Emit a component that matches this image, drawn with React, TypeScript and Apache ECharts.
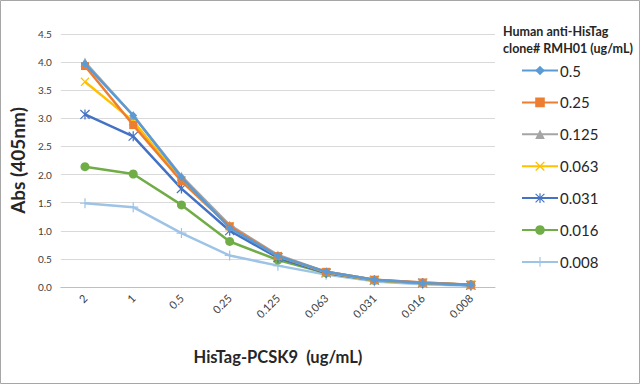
import React, { useEffect, useRef } from "react";
import * as echarts from "echarts";

const categories = ["2", "1", "0.5", "0.25", "0.125", "0.063", "0.031", "0.016", "0.008"];
const seriesNames = ["0.5", "0.25", "0.125", "0.063", "0.031", "0.016", "0.008"];
const s05 = [3.97, 3.05, 1.95, 1.05, 0.55, 0.27, 0.13, 0.07, 0.04];
const s025 = [3.93, 2.88, 1.88, 1.08, 0.55, 0.27, 0.13, 0.08, 0.04];
const s0125 = [4.0, 3.05, 1.97, 1.1, 0.57, 0.27, 0.13, 0.08, 0.04];
const s0063 = [3.65, 2.95, 1.9, 1.08, 0.55, 0.26, 0.12, 0.07, 0.04];
const s0031 = [3.07, 2.68, 1.75, 1.0, 0.52, 0.25, 0.12, 0.07, 0.03];
const s0016 = [2.14, 2.01, 1.46, 0.81, 0.48, 0.25, 0.12, 0.07, 0.04];
const s0008 = [1.49, 1.42, 0.96, 0.56, 0.38, 0.22, 0.1, 0.05, 0.02];
const seriesData = [s05, s025, s0125, s0063, s0031, s0016, s0008];
const colors = ["#5B9BD5", "#ED7D31", "#A5A5A5", "#FFC000", "#4472C4", "#70AD47", "#9DC3E6"];

const X_PATH = "path://M1,0L5,4L9,0L10,1L6,5L10,9L9,10L5,6L1,10L0,9L4,5L0,1Z";
const STAR_PATH =
  "path://M4.4,0H5.6V10H4.4Z M1,0.2L5,4.2L9,0.2L9.8,1L5.8,5L9.8,9L9,9.8L5,5.8L1,9.8L0.2,9L4.2,5L0.2,1Z";
const PLUS_PATH = "path://M0,4.4H10V5.6H0Z M4.4,0H5.6V10H4.4Z";
const symbols = ["diamond", "rect", "triangle", X_PATH, STAR_PATH, "circle", PLUS_PATH];
const symbolSizes = [8, 8, 9, 9, 10, 9, 10];

const FONT = "Lato, 'Open Sans', sans-serif";

export default function App() {
  const ref = useRef<HTMLDivElement>(null);
  useEffect(() => {
    if (!ref.current) return;
    const chart = echarts.init(ref.current, null, { renderer: "svg" });
    chart.setOption({
      animation: false,
      backgroundColor: "#ffffff",
      textStyle: { fontFamily: FONT },
      title: {
        text: "Human anti-HisTag\nclone# RMH01 (ug/mL)",
        left: 498,
        top: 18,
        textStyle: { fontSize: 12.5, fontWeight: "bold", color: "#262626", lineHeight: 17, fontFamily: FONT },
      },
      legend: {
        orient: "vertical",
        left: 516,
        top: 58,
        itemWidth: 36,
        itemHeight: 12,
        itemGap: 16.9,
        textStyle: { fontSize: 15, color: "#262626", fontFamily: FONT, padding: [0, 0, 0, -3] },
        data: seriesNames,
      },
      grid: { left: 59, top: 34, right: 145, bottom: 97, containLabel: false },
      xAxis: {
        type: "category",
        data: categories,
        boundaryGap: true,
        name: "HisTag-PCSK9  (ug/mL)",
        nameLocation: "middle",
        nameGap: 61,
        nameTextStyle: { fontSize: 16.5, fontWeight: "bold", color: "#262626", fontFamily: FONT },
        axisLine: { lineStyle: { color: "#BFBFBF", width: 1 } },
        axisTick: { show: false },
        axisLabel: { rotate: 45, fontSize: 11, color: "#404040", margin: 9, fontFamily: FONT },
      },
      yAxis: {
        type: "value",
        min: 0,
        max: 4.5,
        interval: 0.5,
        name: "Abs (405nm)",
        nameLocation: "middle",
        nameGap: 19,
        nameTextStyle: { fontSize: 19, fontWeight: "bold", color: "#262626", fontFamily: FONT },
        axisLine: { show: false },
        axisTick: { show: false },
        splitLine: { lineStyle: { color: "#D9D9D9", width: 1 } },
        axisLabel: {
          fontSize: 10,
          color: "#404040",
          margin: 9,
          fontFamily: FONT,
          formatter: (v: number) => v.toFixed(1),
        },
      },
      series: seriesNames.map((name, i) => ({
        name,
        type: "line",
        data: seriesData[i],
        color: colors[i],
        symbol: symbols[i],
        symbolSize: symbolSizes[i],
        showAllSymbol: true,
        lineStyle: { width: 2.5, color: colors[i] },
        itemStyle: { color: colors[i] },
        z: 10 - i,
      })),
      graphic: [
        {
          type: "rect",
          shape: { x: 0.5, y: 0.5, width: 639, height: 383 },
          style: { fill: "none", stroke: "#A6A6A6", lineWidth: 1 },
          silent: true,
        },
      ],
    });
    return () => chart.dispose();
  }, []);
  return (
    <div
      ref={ref}
      style={{ position: "fixed", left: 0, top: 0, width: 640, height: 384 }}
    />
  );
}
